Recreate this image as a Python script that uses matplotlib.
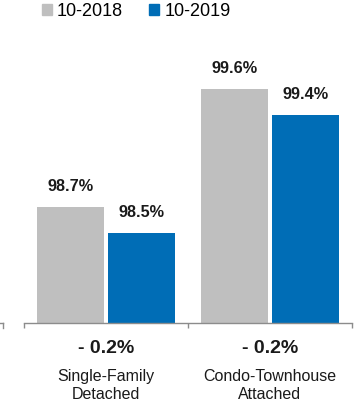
import matplotlib.pyplot as plt
from matplotlib.lines import Line2D
from matplotlib.patches import Patch

plt.rcParams['font.family'] = ['Liberation Sans', 'DejaVu Sans']

categories = ['Single-Family\nDetached', 'Condo-Townhouse\nAttached']
series_names = ['10-2018', '10-2019']
values_2018 = [98.7, 99.6]
values_2019 = [98.5, 99.4]
changes = ['- 0.2%', '- 0.2%']

GRAY = '#BFBFBF'
BLUE = '#006DB6'
AXIS = '#8C8C8C'

fig = plt.figure(figsize=(3.56, 4.04), dpi=100)
ax = fig.add_axes([24 / 356, 81 / 404, 328 / 356, 263 / 404])

width = 0.41
off = 0.215
x = list(range(len(categories)))
ax.bar([i - off for i in x], values_2018, width, color=GRAY)
ax.bar([i + off for i in x], values_2019, width, color=BLUE)

ax.set_xlim(-0.5, 1.5)
ax.set_ylim(97.81, 99.824)

for spine in ['top', 'right', 'left']:
    ax.spines[spine].set_visible(False)
ax.spines['bottom'].set_color(AXIS)
ax.spines['bottom'].set_linewidth(1.0)
ax.set_yticks([])
ax.set_xticks([-0.5, 0.5, 1.5])
ax.set_xticklabels([])
ax.tick_params(axis='x', length=3.6, width=1.0, color=AXIS, direction='out')

# value labels above bars
for i in x:
    ax.annotate(f'{values_2018[i]}%', (i - off, values_2018[i]), xytext=(0, 11.5),
                textcoords='offset points', ha='center', va='baseline',
                fontsize=11.7, fontweight='bold', color='#1a1a1a')
    ax.annotate(f'{values_2019[i]}%', (i + off, values_2019[i]), xytext=(0, 11.5),
                textcoords='offset points', ha='center', va='baseline',
                fontsize=11.7, fontweight='bold', color='#1a1a1a')

# change and category labels below axis
for i in x:
    ax.annotate(changes[i], (i, 0), xycoords=('data', 'axes fraction'),
                xytext=(0, -21.6), textcoords='offset points',
                ha='center', va='baseline', fontsize=14, fontweight='bold',
                color='#1a1a1a')
    ax.annotate(categories[i], (i, 0), xycoords=('data', 'axes fraction'),
                xytext=(0, -45), textcoords='offset points',
                ha='center', va='center', fontsize=11.5, linespacing=1.3,
                color='#1a1a1a')

# fragment of neighbouring panel axis at the far left
fig.add_artist(Line2D([0, 2.5 / 356], [1 - 323 / 404] * 2, color=AXIS, lw=1.0))
fig.add_artist(Line2D([2.5 / 356] * 2, [1 - 323 / 404, 1 - 328 / 404], color=AXIS, lw=1.0))

handles = [Patch(color=GRAY, label=series_names[0]),
           Patch(color=BLUE, label=series_names[1])]
fig.legend(handles=handles, loc='upper left', bbox_to_anchor=(42 / 356, 1 - 3 / 404),
           ncol=2, frameon=False, fontsize=13, handlelength=0.55,
           handleheight=0.55, handletextpad=0.28, columnspacing=1.45,
           borderpad=0.0, borderaxespad=0.0)

fig.savefig('out.png', dpi=100)
